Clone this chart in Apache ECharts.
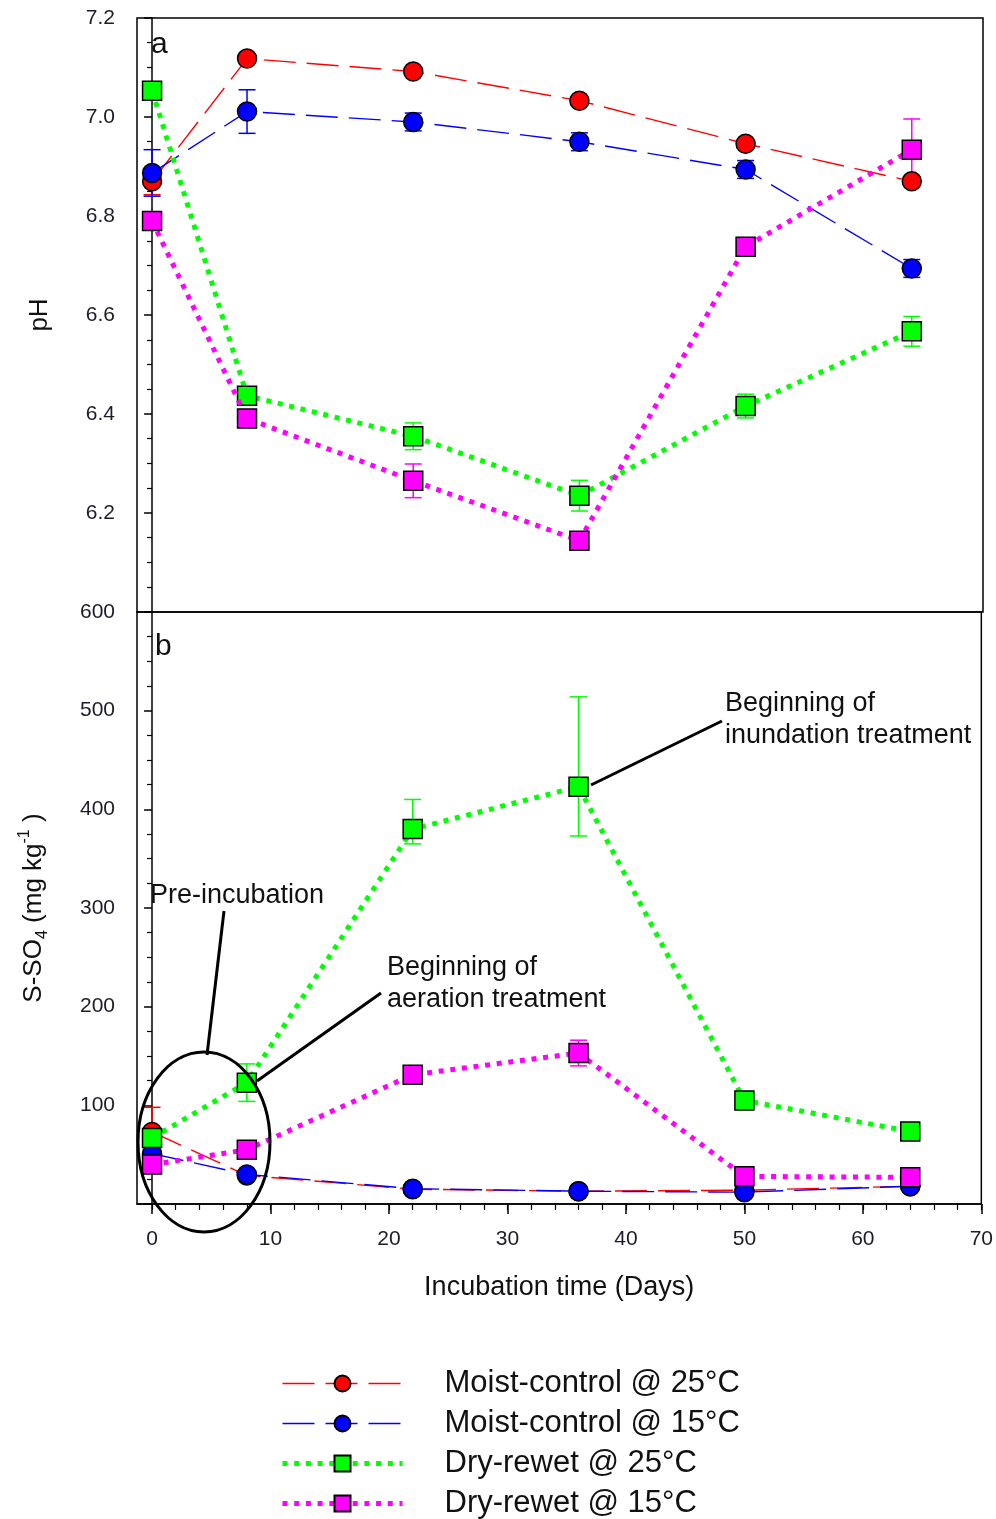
<!DOCTYPE html>
<html><head><meta charset="utf-8">
<script src="https://cdn.jsdelivr.net/npm/echarts@6/dist/echarts.min.js"></script>
<style>html,body{margin:0;padding:0;background:#fff}#c{width:996px;height:1519px}</style>
</head><body><div id="c"></div>
<script>
// ---- data ----
const days = [0, 8, 22, 36, 50, 64];
const seriesNames = ['Moist-control @ 25°C', 'Moist-control @ 15°C', 'Dry-rewet @ 25°C', 'Dry-rewet @ 15°C'];
const xTickLabels = [0, 10, 20, 30, 40, 50, 60, 70];
const xMinorTicks = [0,2,4,6,8,10,12,14,16,18,20,22,24,26,28,30,32,34,36,38,40,42,44,46,48,50,52,54,56,58,60,62,64,66,68,70];

// panel a: pH
const phMoist25 = [6.870, 7.118, 7.092, 7.033, 6.946, 6.870];
const phMoist25Err = [0.027, 0.010, 0.008, 0.008, 0.008, 0.010];
const phMoist15 = [6.887, 7.011, 6.990, 6.950, 6.894, 6.694];
const phMoist15Err = [0.047, 0.044, 0.018, 0.018, 0.018, 0.018];
const phDry25 = [7.053, 6.437, 6.355, 6.235, 6.416, 6.567];
const phDry25Err = [0.010, 0.010, 0.027, 0.031, 0.024, 0.030];
const phDry15 = [6.790, 6.391, 6.265, 6.144, 6.738, 6.934];
const phDry15Err = [0.010, 0.010, 0.034, 0.010, 0.010, 0.062];

// panel b: S-SO4 (mg kg-1)
const so4Moist25 = [73, 29, 15, 13, 14, 18];
const so4Moist25Err = [25, 2, 2, 2, 2, 2];
const so4Moist15 = [51, 30, 15.5, 13, 12, 18];
const so4Moist15Err = [3, 2, 2, 2, 2, 2];
const so4Dry25 = [67, 123, 380, 423, 105, 73.5];
const so4Dry25ErrUp = [11, 19, 30, 91, 4, 4];
const so4Dry25ErrDown = [11, 19, 15, 50, 4, 4];
const so4Dry15 = [40, 55, 131, 153, 28, 27];
const so4Dry15Err = [3, 3, 4, 13, 3, 3];

// ---- chart ----
const FONT = 'Liberation Sans, Arial, sans-serif';
const COL = ['#ff0000', '#0000ff', '#00ff00', '#ff00ff'];
const LBL = '#1c1c2a';
const chart = echarts.init(document.getElementById('c'));

function pts(v) { return days.map((d, i) => [d, v[i]]); }
function errPts(v, up, down) { return days.map((d, i) => [d, v[i] - (down ? down[i] : up[i]), v[i] + up[i]]); }

function errSeries(xi, yi, data, color) {
  return {
    type: 'custom', xAxisIndex: xi, yAxisIndex: yi, data: data, z: 3, silent: true, clip: false,
    encode: { x: 0, y: [1, 2] },
    renderItem: function (params, api) {
      const x = api.value(0);
      const lo = api.coord([x, api.value(1)]);
      const hi = api.coord([x, api.value(2)]);
      const w = 8.5;
      const st = { stroke: color, lineWidth: 1.5 };
      return { type: 'group', children: [
        { type: 'line', shape: { x1: lo[0], y1: lo[1], x2: hi[0], y2: hi[1] }, style: st },
        { type: 'line', shape: { x1: lo[0] - w, y1: lo[1], x2: lo[0] + w, y2: lo[1] }, style: st },
        { type: 'line', shape: { x1: hi[0] - w, y1: hi[1], x2: hi[0] + w, y2: hi[1] }, style: st }
      ] };
    }
  };
}

function lineSeries(k, xi, yi, v) {
  const dashed = k < 2;
  return {
    type: 'line', name: seriesNames[k], xAxisIndex: xi, yAxisIndex: yi, data: pts(v),
    symbol: dashed ? 'circle' : 'rect', symbolSize: 19, showAllSymbol: true, clip: false,
    lineStyle: { color: COL[k], width: dashed ? 1.4 : 5, type: dashed ? [32, 11] : [5, 6.7] },
    itemStyle: { color: COL[k], borderColor: '#000', borderWidth: 1.5 },
    z: 4 + k, animation: false
  };
}

const yAxisCommon = {
  type: 'value',
  axisLine: { show: true, lineStyle: { color: '#000', width: 1.5 } },
  axisTick: { show: true, length: 8, lineStyle: { color: '#000', width: 1.5 } },
  minorTick: { show: true, splitNumber: 4, length: 5, lineStyle: { color: '#000', width: 1.2 } },
  splitLine: { show: false }, minorSplitLine: { show: false },
  axisLabel: { fontSize: 21, fontFamily: FONT, color: LBL, margin: 22, showMinLabel: false },
  nameLocation: 'middle', nameRotate: 90
};

const option = {
  animation: false,
  backgroundColor: '#fff',
  grid: [
    { left: 137, top: 18, width: 846, height: 594, show: true, borderColor: '#000', borderWidth: 1.5, backgroundColor: 'transparent' },
    { left: 137, top: 612, width: 846, height: 592, show: true, borderColor: '#000', borderWidth: 1.5, backgroundColor: 'transparent' }
  ],
  xAxis: [
    { type: 'value', gridIndex: 0, min: -1.27, max: 70, show: false },
    { type: 'value', gridIndex: 1, min: -1.27, max: 70, position: 'bottom',
      axisLine: { show: true, lineStyle: { color: '#000', width: 1.5 } },
      axisTick: { show: true, length: 10, customValues: xTickLabels, lineStyle: { color: '#000', width: 1.5 } },
      axisLabel: { customValues: xTickLabels, fontSize: 21, fontFamily: FONT, color: LBL, margin: 25 },
      splitLine: { show: false },
      name: 'Incubation time (Days)', nameLocation: 'middle', nameGap: 70,
      nameTextStyle: { fontSize: 27, fontFamily: FONT, color: '#111' } },
    { type: 'value', gridIndex: 1, min: -1.27, max: 70, position: 'bottom',
      axisLine: { show: false },
      axisTick: { show: true, length: 6, customValues: xMinorTicks, lineStyle: { color: '#000', width: 1.2 } },
      axisLabel: { show: false }, splitLine: { show: false } }
  ],
  yAxis: [
    Object.assign({}, yAxisCommon, { gridIndex: 0, min: 6.0, max: 7.2, interval: 0.2,
      axisLabel: Object.assign({}, yAxisCommon.axisLabel, { formatter: v => v.toFixed(1) }),
      name: 'pH', nameGap: 84, nameTextStyle: { fontSize: 26, fontFamily: FONT, color: '#111' } }),
    Object.assign({}, yAxisCommon, { gridIndex: 1, min: 0, max: 600, interval: 100,
      name: '{a|S-SO}{sub|4}{a| (mg kg}{sup|-1}{a| )}', nameGap: 86,
      nameTextStyle: { fontSize: 26, fontFamily: FONT, color: '#111',
        rich: {
          a: { fontSize: 26, fontFamily: FONT, color: '#111', lineHeight: 34 },
          sub: { fontSize: 16, fontFamily: FONT, color: '#111', lineHeight: 34, verticalAlign: 'bottom' },
          sup: { fontSize: 16, fontFamily: FONT, color: '#111', lineHeight: 34, verticalAlign: 'top' }
        } } })
  ],
  legend: {
    orient: 'vertical', left: 280, top: 1368, width: 600, height: 200, padding: 0,
    itemWidth: 120, itemHeight: 20, itemGap: 9,
    selectedMode: false, data: seriesNames,
    lineStyle: { width: 'inherit' },
    textStyle: { fontSize: 31, fontFamily: FONT, color: '#111', padding: [0, 0, 0, 37] }
  },
  series: [
    errSeries(0, 0, errPts(phMoist25, phMoist25Err), COL[0]),
    errSeries(0, 0, errPts(phMoist15, phMoist15Err), COL[1]),
    errSeries(0, 0, errPts(phDry25, phDry25Err), COL[2]),
    errSeries(0, 0, errPts(phDry15, phDry15Err), COL[3]),
    lineSeries(0, 0, 0, phMoist25),
    lineSeries(1, 0, 0, phMoist15),
    lineSeries(2, 0, 0, phDry25),
    lineSeries(3, 0, 0, phDry15),
    errSeries(1, 1, errPts(so4Moist25, so4Moist25Err), COL[0]),
    errSeries(1, 1, errPts(so4Moist15, so4Moist15Err), COL[1]),
    errSeries(1, 1, errPts(so4Dry25, so4Dry25ErrUp, so4Dry25ErrDown), COL[2]),
    errSeries(1, 1, errPts(so4Dry15, so4Dry15Err), COL[3]),
    lineSeries(0, 1, 1, so4Moist25),
    lineSeries(1, 1, 1, so4Moist15),
    lineSeries(2, 1, 1, so4Dry25),
    lineSeries(3, 1, 1, so4Dry15)
  ],
  graphic: [
    { type: 'text', left: 151, top: 30, style: { text: 'a', font: '30px ' + FONT, fill: '#111' }, z: 20 },
    { type: 'text', left: 155, top: 632, style: { text: 'b', font: '30px ' + FONT, fill: '#111' }, z: 20 },
    { type: 'text', x: 725, y: 688, style: { text: 'Beginning of\ninundation treatment', font: '27px ' + FONT, lineHeight: 32, fill: '#111' }, z: 20 },
    { type: 'text', x: 387, y: 952, style: { text: 'Beginning of\naeration treatment', font: '27px ' + FONT, lineHeight: 32, fill: '#111' }, z: 20 },
    { type: 'text', x: 150, y: 880, style: { text: 'Pre-incubation', font: '27px ' + FONT, lineHeight: 32, fill: '#111' }, z: 20 },
    { type: 'line', shape: { x1: 591, y1: 785, x2: 722, y2: 721 }, style: { stroke: '#000', lineWidth: 3 }, z: 20 },
    { type: 'line', shape: { x1: 257, y1: 1081, x2: 381, y2: 993 }, style: { stroke: '#000', lineWidth: 3 }, z: 20 },
    { type: 'line', shape: { x1: 224, y1: 911, x2: 207, y2: 1055 }, style: { stroke: '#000', lineWidth: 3 }, z: 20 },
    { type: 'ellipse', shape: { cx: 204, cy: 1142, rx: 66, ry: 90 }, style: { stroke: '#000', lineWidth: 3, fill: null }, z: 20 }
  ]
};
chart.setOption(option);
</script>
</body></html>
